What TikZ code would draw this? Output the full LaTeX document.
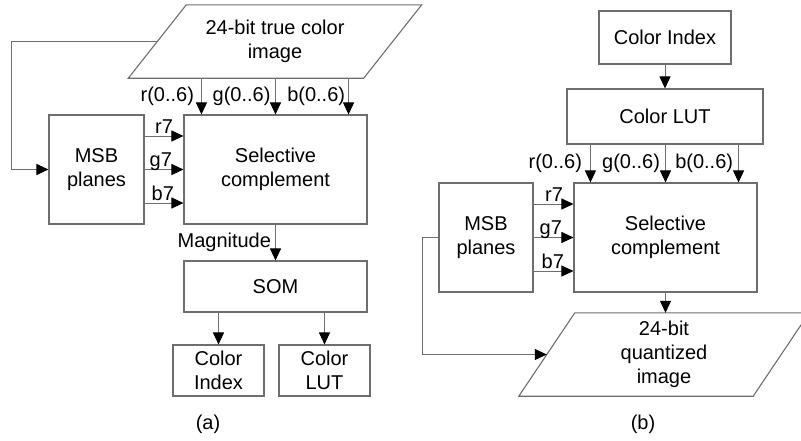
\documentclass[tikz,border=0pt]{standalone}
\usepackage{fontspec}
\setmainfont{Liberation Sans}
\usetikzlibrary{arrows.meta,calc}
\definecolor{linegray}{HTML}{6E6E6E}
\begin{document}
\begin{tikzpicture}[x=1pt,y=-1pt,
  box/.style={draw=linegray, line width=1.1pt, inner sep=0pt, align=center, font=\fontsize{20}{24}\selectfont},
  txt/.style={inner sep=0pt, align=center, font=\fontsize{20}{24}\selectfont},
  arr/.style={draw=linegray, line width=1pt, -{Triangle[length=12pt,width=11pt,color=black,fill=black]}},
  wire/.style={draw=linegray, line width=1.1pt},
  lab/.style={inner sep=0pt, font=\fontsize{20}{24}\selectfont}]
\useasboundingbox (0,0) rectangle (801,440);
\clip (0,0) rectangle (801,440);
% ---------------- (a) ----------------
\node[txt, minimum width=235, minimum height=73] (imgA) at (275,41.5) {24-bit true color\\image};
\draw[wire] ([xshift=-29]imgA.south west) -- ([xshift=-29]imgA.south east) -- ([xshift=29]imgA.north east) -- ([xshift=29]imgA.north west) -- cycle;
\node[box, minimum width=95, minimum height=109] (msbA) at (96.5,169.5) {MSB\\planes};
\node[box, minimum width=183, minimum height=109] (scA) at (275.5,169.5) {Selective\\complement};
\node[box, minimum width=183, minimum height=51] (somA) at (275.5,286.5) {SOM};
\node[box, minimum width=91, minimum height=51] (ciA) at (218.5,370.5) {Color\\Index};
\node[box, minimum width=91, minimum height=51] (lutA) at (324.5,370.5) {Color\\LUT};
\node[txt] (capA) at (208,424) {(a)};
\coordinate (rA) at ([xshift=18]scA.north west);
\coordinate (gA) at (scA.north);
\coordinate (bA) at ([xshift=-19]scA.north east);
\draw[arr] (rA |- imgA.south) -- node[lab, anchor=east, xshift=-7] {r(0..6)} (rA);
\draw[arr] (gA |- imgA.south) -- node[lab, anchor=east, xshift=-4.5] {g(0..6)} (gA);
\draw[arr] (bA |- imgA.south) -- node[lab, anchor=east, xshift=-3] {b(0..6)} (bA);
\draw[arr] (imgA.west) -- ++(-145.5,0) |- (msbA.west);
\draw[arr] ([yshift=33.5]msbA.east) -- ([yshift=33.5]scA.west) node[pos=1, lab, anchor=base east, xshift=-10, yshift=3] {r7};
\draw[arr] (msbA.east) -- (scA.west) node[pos=1, lab, anchor=base east, xshift=-11, yshift=3] {g7};
\draw[arr] ([yshift=-33.5]msbA.east) -- ([yshift=-33.5]scA.west) node[pos=1, lab, anchor=base east, xshift=-9, yshift=3] {b7};
\draw[arr] (scA.south) -- node[lab, anchor=east, xshift=-4] {Magnitude} (somA.north);
\draw[arr] (somA.south -| ciA.north) -- (ciA.north);
\draw[arr] (somA.south -| lutA.north) -- (lutA.north);
% ---------------- (b) ----------------
\node[box, minimum width=132, minimum height=53] (ciB) at (665,37.5) {Color Index};
\node[box, minimum width=196, minimum height=55] (lutB) at (665,116.5) {Color LUT};
\node[box, minimum width=183, minimum height=109] (scB) at (665.5,237.5) {Selective\\complement};
\node[box, minimum width=94, minimum height=109] (msbB) at (486,237.5) {MSB\\planes};
\node[txt, minimum width=234, minimum height=83] (imgB) at (664,354.5) {24-bit\\quantized\\image};
\draw[wire] ([xshift=-28]imgB.south west) -- ([xshift=-28]imgB.south east) -- ([xshift=28]imgB.north east) -- ([xshift=28]imgB.north west) -- cycle;
\node[txt] (capB) at (643,424) {(b)};
\draw[arr] (ciB.south) -- (lutB.north);
\coordinate (rB) at ([xshift=17]scB.north west);
\coordinate (gB) at (scB.north);
\coordinate (bB) at ([xshift=-19]scB.north east);
\draw[arr] (rB |- lutB.south) -- node[lab, anchor=east, xshift=-8] {r(0..6)} (rB);
\draw[arr] (gB |- lutB.south) -- node[lab, anchor=east, xshift=-5] {g(0..6)} (gB);
\draw[arr] (bB |- lutB.south) -- node[lab, anchor=east, xshift=-5] {b(0..6)} (bB);
\draw[arr] ([yshift=33.5]msbB.east) -- ([yshift=33.5]scB.west) node[pos=1, lab, anchor=base east, xshift=-10, yshift=3] {r7};
\draw[arr] (msbB.east) -- (scB.west) node[pos=1, lab, anchor=base east, xshift=-11, yshift=3] {g7};
\draw[arr] ([yshift=-33.5]msbB.east) -- ([yshift=-33.5]scB.west) node[pos=1, lab, anchor=base east, xshift=-9, yshift=3] {b7};
\draw[arr] (msbB.west) -- ++(-16,0) |- (imgB.west);
\draw[arr] (scB.south) -- (scB.south |- imgB.north);
\end{tikzpicture}
\end{document}
